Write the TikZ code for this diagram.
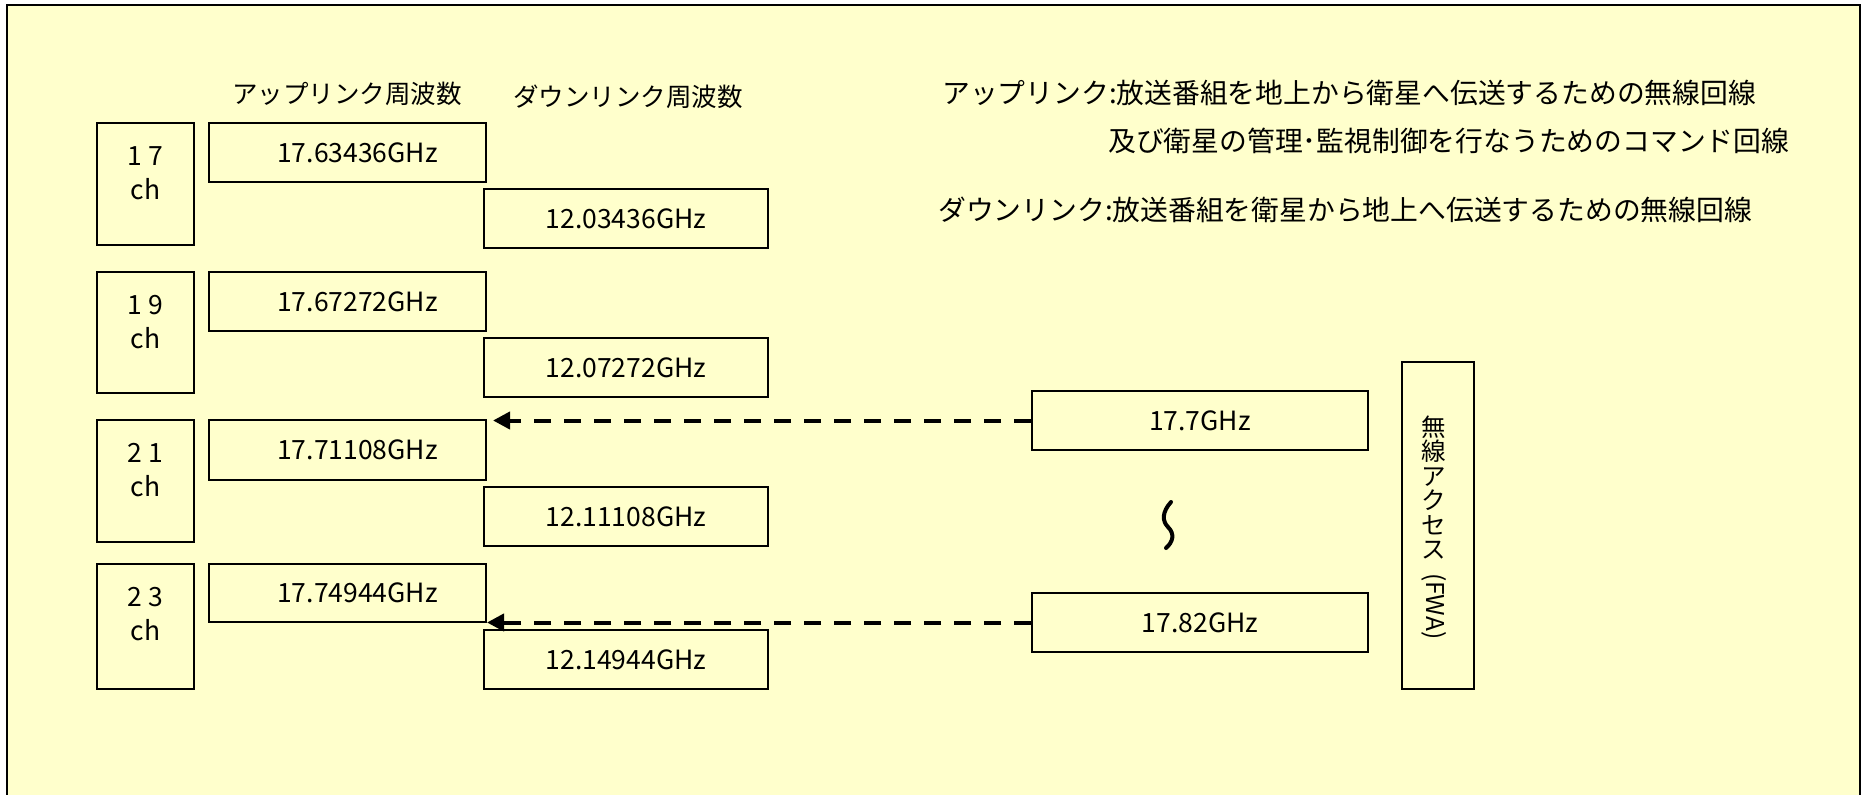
\documentclass[tikz,border=0pt]{standalone}
\usepackage{fontspec}
\setmainfont{Noto Sans CJK JP}
\usetikzlibrary{arrows.meta}
\definecolor{bgyellow}{HTML}{FFFFCC}
\begin{document}
\begin{tikzpicture}[x=1pt,y=-1pt,
  box/.style={draw=black, line width=2pt, inner sep=0pt, anchor=north west,
              font=\fontsize{26.5}{30}\selectfont},
  num/.style={font=\fontsize{26.5}{30}\selectfont, inner sep=0pt},
  head/.style={font=\fontsize{25.5}{30}\selectfont, inner sep=0pt},
  desc/.style={font=\fontsize{27.8}{32}\selectfont, inner sep=0pt, anchor=west},
  chbox/.style={box, minimum width=97pt},
  upbox/.style={box, minimum width=277pt},
  dnbox/.style={box, minimum width=284pt, minimum height=59pt},
  rbox/.style={box, minimum width=336pt, minimum height=59pt},
  dasharrow/.style={line width=4pt, dash pattern=on 17pt off 13pt,
                    -{Triangle[length=17pt,width=17pt]}}
]
\useasboundingbox (0,0) rectangle (1866,795);
\fill[white] (0,0) rectangle (1866,795);
\fill[bgyellow] (7,5) rectangle (1860,795);
\draw[line width=2.5pt] (7,795) -- (7,5) -- (1860,5) -- (1860,795);

% headers
\node[head] (hup) at (347,94) {アップリンク周波数};
\node[head] (hdn) at (628,97) {ダウンリンク周波数};

% definitions
\node[desc] (def1) at (942,93) {アップリンク:放送番組を地上から衛星へ伝送するための無線回線};
\node[desc] (def2) at (1108,141) {及び衛星の管理･監視制御を行なうためのコマンド回線};
\node[desc] (def3) at (938,210) {ダウンリンク:放送番組を衛星から地上へ伝送するための無線回線};

% channel boxes
\node[chbox, minimum height=122pt] (c17) at (96,122) {};
\node[chbox, minimum height=121pt] (c19) at (96,271) {};
\node[chbox, minimum height=122pt] (c21) at (96,419) {};
\node[chbox, minimum height=125pt] (c23) at (96,563) {};
\foreach \c/\a/\b in {c17/1/7, c19/1/9, c21/2/1, c23/2/3}{
  \node[num, anchor=base] (\c n) at ([yshift=-43pt]\c.north) {\a\ \b};
  \node[num, anchor=base] (\c c) at ([yshift=-77pt]\c.north) {ch};
}

% uplink boxes
\node[upbox, minimum height=59pt] (u17) at (208,122) {\hspace*{20pt}17.63436GHz};
\node[upbox, minimum height=59pt] (u19) at (208,271) {\hspace*{20pt}17.67272GHz};
\node[upbox, minimum height=60pt] (u21) at (208,419) {\hspace*{20pt}17.71108GHz};
\node[upbox, minimum height=58pt] (u23) at (208,563) {\hspace*{20pt}17.74944GHz};

% downlink boxes
\node[dnbox] (d17) at (483,188) {12.03436GHz};
\node[dnbox] (d19) at (483,337) {12.07272GHz};
\node[dnbox] (d21) at (483,486) {12.11108GHz};
\node[dnbox] (d23) at (483,629) {12.14944GHz};

% FWA boxes
\node[rbox] (r1) at (1031,390) {17.7GHz};
\node[rbox] (r2) at (1031,592) {17.82GHz};
\node[box, minimum width=72pt, minimum height=327pt] (fwa) at (1401,361) {};
\node[font=\fontsize{24.5}{24.5}\selectfont, align=center, inner sep=0pt] (fwat)
  at ([xshift=-4pt,yshift=-2pt]fwa.center)
  {無\\線\\ア\\ク\\セ\\ス\\[-10pt]\rotatebox{-90}{(FWA)}};

% squiggle
\draw[line width=4pt, line cap=round]
  (1171,502) .. controls (1162,512) and (1162,521) .. (1168,527)
  .. controls (1175,534) and (1173,542) .. (1166,548);

% arrows
\path (r1.west -| u21.east) ++(6,0) coordinate (t1);
\coordinate (t2) at (r2.west -| u23.east);
\draw[dasharrow] (r1.west) -- (t1);
\draw[dasharrow] (r2.west) -- (t2);
\end{tikzpicture}
\end{document}
